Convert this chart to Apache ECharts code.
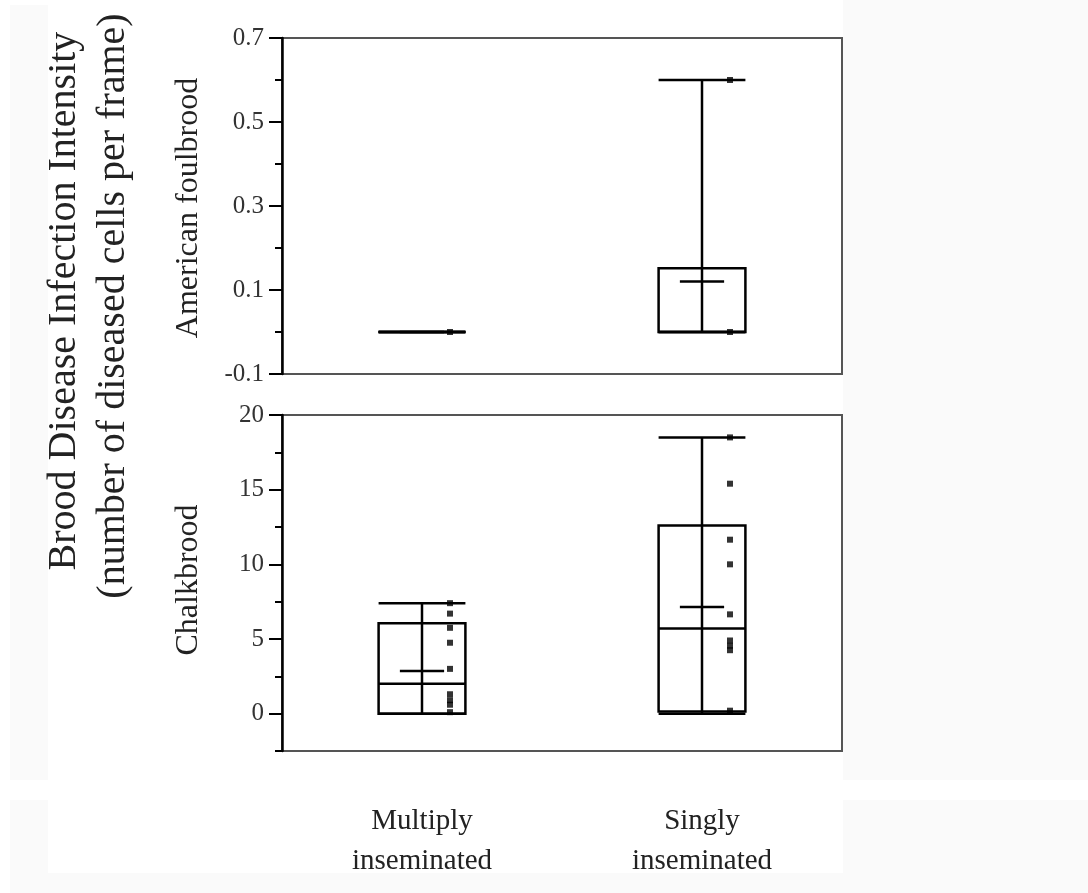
<!DOCTYPE html>
<html>
<head>
<meta charset="utf-8">
<title>Brood disease infection intensity</title>
<script src="https://cdn.jsdelivr.net/npm/echarts@6/dist/echarts.min.js"></script>
<style>
  html, body { margin: 0; padding: 0; background: #fff; }
  #chart { width: 1088px; height: 893px; }
</style>
</head>
<body>
<div id="chart"></div>
<script>
const categories = ['Multiply\ninseminated', 'Singly\ninseminated'];

// [category, min, q1, median, q3, max]
const afbBoxes = [
  [0, 0, 0, 0, 0, 0],
  [1, 0, 0, 0, 0.152, 0.6]
];
const afbMeans = [[0, 0], [1, 0.12]];
const afbPoints = [[0, 0], [1, 0.6], [1, 0]];

const chalkBoxes = [
  [0, 0, 0, 2.0, 6.05, 7.4],
  [1, 0, 0.15, 5.7, 12.6, 18.5]
];
const chalkMeans = [[0, 2.85], [1, 7.15]];
const chalkPoints = [
  [0, 7.4], [0, 6.7], [0, 5.75], [0, 4.75], [0, 3.0], [0, 1.3], [0, 0.9], [0, 0.6], [0, 0.1],
  [1, 18.5], [1, 15.4], [1, 11.65], [1, 10.0], [1, 6.65], [1, 4.9], [1, 4.55], [1, 4.25], [1, 0.2]
];

const afbTicks = ['-0.1', '0.1', '0.3', '0.5', '0.7'];
const chalkTicks = [0, 5, 10, 15, 20];

const serif = '"Liberation Serif", "DejaVu Serif", serif';
const lineStyle = { stroke: '#000', lineWidth: 2.5, fill: null };
const paper = '#fafafa';

function renderBox(params, api) {
  const cat = api.value(0);
  const x = api.coord([cat, 0])[0];
  const half = api.size([1, 0])[0] * 0.155;
  const yMin = api.coord([cat, api.value(1)])[1];
  const yQ1 = api.coord([cat, api.value(2)])[1];
  const yMed = api.coord([cat, api.value(3)])[1];
  const yQ3 = api.coord([cat, api.value(4)])[1];
  const yMax = api.coord([cat, api.value(5)])[1];
  return {
    type: 'group',
    children: [
      { type: 'line', shape: { x1: x, y1: yMin, x2: x, y2: yMax }, style: lineStyle },
      { type: 'line', shape: { x1: x - half, y1: yMax, x2: x + half, y2: yMax }, style: lineStyle },
      { type: 'line', shape: { x1: x - half, y1: yMin, x2: x + half, y2: yMin }, style: lineStyle },
      { type: 'rect', shape: { x: x - half, y: yQ3, width: half * 2, height: yQ1 - yQ3 }, style: lineStyle },
      { type: 'line', shape: { x1: x - half, y1: yMed, x2: x + half, y2: yMed }, style: lineStyle }
    ]
  };
}

function renderMean(params, api) {
  const cat = api.value(0);
  const p = api.coord([cat, api.value(1)]);
  const half = api.size([1, 0])[0] * 0.079;
  return { type: 'line', shape: { x1: p[0] - half, y1: p[1], x2: p[0] + half, y2: p[1] }, style: lineStyle };
}

const chart = echarts.init(document.getElementById('chart'));

const tickLabel = { color: '#333', fontFamily: serif, fontSize: 25, margin: 18 };

const option = {
  backgroundColor: '#fff',
  animation: false,
  graphic: [
    // faint scan background
    { type: 'rect', shape: { x: 10, y: 5, width: 38, height: 775 }, style: { fill: paper }, z: -10 },
    { type: 'rect', shape: { x: 10, y: 800, width: 38, height: 73 }, style: { fill: paper }, z: -10 },
    { type: 'rect', shape: { x: 843, y: 0, width: 245, height: 780 }, style: { fill: paper }, z: -10 },
    { type: 'rect', shape: { x: 843, y: 800, width: 245, height: 73 }, style: { fill: paper }, z: -10 },
    { type: 'rect', shape: { x: 10, y: 873, width: 1078, height: 20 }, style: { fill: paper }, z: -10 },
    {
      type: 'text', x: 64, y: 301, rotation: Math.PI / 2,
      style: { text: 'Brood Disease Infection Intensity', font: '40px ' + serif, fill: '#222', textAlign: 'center', textVerticalAlign: 'middle' }
    },
    {
      type: 'text', x: 113, y: 306, rotation: Math.PI / 2,
      style: { text: '(number of diseased cells per frame)', font: '40px ' + serif, fill: '#222', textAlign: 'center', textVerticalAlign: 'middle' }
    },
    {
      type: 'text', x: 189, y: 208, rotation: Math.PI / 2,
      style: { text: 'American foulbrood', font: '32px ' + serif, fill: '#222', textAlign: 'center', textVerticalAlign: 'middle' }
    },
    {
      type: 'text', x: 189, y: 580, rotation: Math.PI / 2,
      style: { text: 'Chalkbrood', font: '32px ' + serif, fill: '#222', textAlign: 'center', textVerticalAlign: 'middle' }
    }
  ],
  grid: [
    { left: 282, top: 38, width: 560, height: 336, show: true, borderColor: '#555', borderWidth: 2, backgroundColor: '#fff' },
    { left: 282, top: 415, width: 560, height: 336, show: true, borderColor: '#555', borderWidth: 2, backgroundColor: '#fff' }
  ],
  xAxis: [
    {
      type: 'category', gridIndex: 0, data: categories, boundaryGap: true,
      axisLine: { show: false }, axisTick: { show: false }, axisLabel: { show: false }
    },
    {
      type: 'category', gridIndex: 1, data: categories, boundaryGap: true,
      axisLine: { show: false }, axisTick: { show: false },
      axisLabel: { color: '#222', fontFamily: serif, fontSize: 29, lineHeight: 40, margin: 50 }
    }
  ],
  yAxis: [
    {
      type: 'value', gridIndex: 0, position: 'left', min: -0.1, max: 0.7, interval: 0.2,
      splitLine: { show: false },
      axisLine: { show: true, lineStyle: { color: '#000', width: 2.5 } },
      axisTick: { show: true, length: 13, lineStyle: { color: '#000', width: 2 } },
      minorTick: { show: true, splitNumber: 2, length: 7, lineStyle: { color: '#000', width: 2 } },
      axisLabel: Object.assign({}, tickLabel, {
        formatter: v => afbTicks[Math.round((v + 0.1) / 0.2)]
      })
    },
    {
      type: 'value', gridIndex: 1, position: 'left', min: -2.5, max: 20,
      splitLine: { show: false },
      axisLine: { show: true, lineStyle: { color: '#000', width: 2.5 } },
      axisTick: { show: true, length: 13, customValues: chalkTicks, lineStyle: { color: '#000', width: 2 } },
      axisLabel: Object.assign({}, tickLabel, { customValues: chalkTicks })
    },
    {
      // short minor ticks for the chalkbrood panel, on the same left edge
      type: 'value', gridIndex: 1, position: 'left', offset: 0, min: -2.5, max: 20, interval: 5,
      splitLine: { show: false },
      axisLine: { show: false },
      axisTick: { show: true, length: 7, lineStyle: { color: '#000', width: 2 } },
      axisLabel: { show: false }
    }
  ],
  series: [
    { type: 'custom', xAxisIndex: 0, yAxisIndex: 0, renderItem: renderBox, data: afbBoxes, encode: { x: 0, y: [1, 2, 3, 4, 5] }, z: 3 },
    { type: 'custom', xAxisIndex: 0, yAxisIndex: 0, renderItem: renderMean, data: afbMeans, encode: { x: 0, y: 1 }, z: 3 },
    {
      type: 'scatter', xAxisIndex: 0, yAxisIndex: 0, data: afbPoints,
      symbol: 'rect', symbolSize: [6, 6], symbolOffset: [28, 0], itemStyle: { color: '#000' }, z: 4
    },
    { type: 'custom', xAxisIndex: 1, yAxisIndex: 1, renderItem: renderBox, data: chalkBoxes, encode: { x: 0, y: [1, 2, 3, 4, 5] }, z: 3 },
    { type: 'custom', xAxisIndex: 1, yAxisIndex: 1, renderItem: renderMean, data: chalkMeans, encode: { x: 0, y: 1 }, z: 3 },
    {
      type: 'scatter', xAxisIndex: 1, yAxisIndex: 1, data: chalkPoints,
      symbol: 'rect', symbolSize: [6, 6], symbolOffset: [28, 0], itemStyle: { color: '#000' }, z: 4
    }
  ]
};

chart.setOption(option);
</script>
</body>
</html>
